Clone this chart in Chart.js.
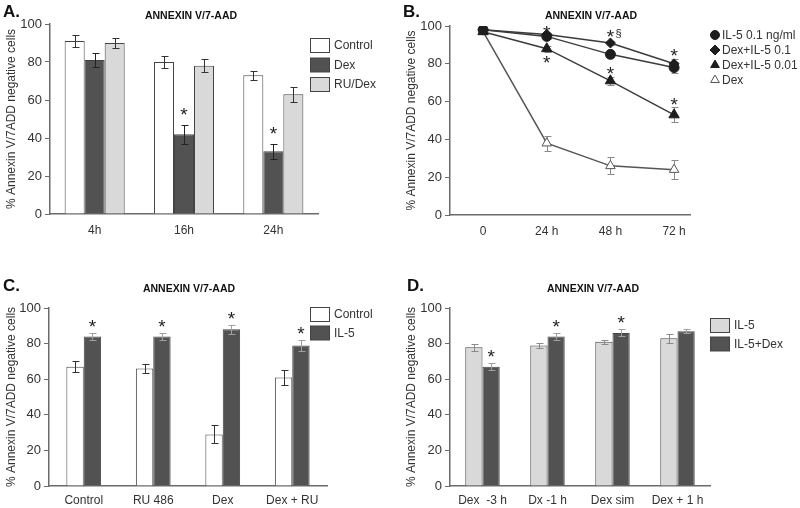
<!DOCTYPE html>
<html lang="en">
<head>
<meta charset="UTF-8">
<title>Annexin V/7-AAD</title>
<script src="https://cdn.jsdelivr.net/npm/chart.js@4"></script>
<style>
    body { margin: 0; background: #fff; }
    .figure { position: relative; width: 800px; height: 508px; }
    .figure canvas { position: absolute; }
</style>
</head>
<body>
<div class="figure">
    <canvas id="panelA" width="400" height="250" style="left:0;top:0"></canvas>
    <canvas id="panelB" width="400" height="250" style="left:400px;top:0"></canvas>
    <canvas id="panelC" width="400" height="258" style="left:0;top:250px"></canvas>
    <canvas id="panelD" width="400" height="258" style="left:400px;top:250px"></canvas>
</div>
<script>
// ---- data ----
const yTitle = '% Annexin V/7ADD negative cells';
const panelTitle = 'ANNEXIN V/7-AAD';

// A. time course, bars
const catsA = ['4h', '16h', '24h'];
const controlA = [91, 80, 73];
const dexA = [81, 42, 33];
const ruDexA = [90, 78, 63];
const controlErrA = [3, 3, 2.5];
const dexErrA = [3.5, 5, 4];
const ruDexErrA = [2.5, 3.5, 4];
const dexStarsA = ['', '*', '*'];

// B. IL-5 rescue, lines
const timesB = ['0', '24 h', '48 h', '72 h'];
const il5B = [98, 94.5, 85, 78];
const dexIl5HighB = [98, 95.5, 91, 80];
const dexIl5LowB = [97, 88, 71, 53];
const dexB = [97, 38, 26, 24];
const il5ErrB = [1, 1.5, 1.5, 3];
const dexIl5HighErrB = [1, 1, 1, 2.5];
const dexIl5LowErrB = [1, 1.5, 2, 4];
const dexErrB = [1, 4, 4.5, 5];
// asterisks in B: time index, value position, text
const starAtB = [1, 1, 2, 2, 3, 3];
const starValB = [99, 83, 97, 77, 87, 61];
const starTextB = ['*', '*', '*§', '*', '*', '*'];

// C. Control vs IL-5
const catsC = ['Control', 'RU 486', 'Dex', 'Dex + RU'];
const controlC = [67, 66, 29, 61];
const il5C = [84, 84, 88, 79];
const controlErrC = [3, 2.5, 5, 4];
const il5ErrC = [2, 2, 2.5, 3];
const il5StarsC = ['*', '*', '*', '*'];

// D. Dex timing
const catsD = ['Dex  -3 h', 'Dx -1 h', 'Dex sim', 'Dex + 1 h'];
const il5D = [78, 79, 81, 83];
const il5DexD = [67, 84, 86, 87];
const il5ErrD = [2, 1.5, 1, 2.5];
const il5DexErrD = [2, 2, 2, 1];
const il5DexStarsD = ['*', '*', '*', ''];

// ---- styles ----
const FONT = "'Liberation Sans', Arial, sans-serif";
const AXIS = '#6b6b6b';
const WHITE = '#ffffff', DARK = '#525252', LIGHT = '#d9d9d9', EDGE = '#444444';

Chart.defaults.font.family = FONT;
Chart.defaults.color = '#333';
Chart.defaults.animation = false;

function drawMarker(ctx, style, x, y, r) {
    ctx.beginPath();
    if (style === 'circle') {
        ctx.arc(x, y, r, 0, Math.PI * 2);
    } else if (style === 'rectRot') {
        ctx.moveTo(x, y - r); ctx.lineTo(x + r, y); ctx.lineTo(x, y + r); ctx.lineTo(x - r, y);
    } else {
        for (let k = 0; k < 3; k++) {
            const a = k * 2 * Math.PI / 3;
            ctx.lineTo(x + Math.sin(a) * r, y - Math.cos(a) * r);
        }
    }
    ctx.closePath();
    ctx.fill();
    ctx.stroke();
}

function drawErrors(chart) {
    const ctx = chart.ctx, ys = chart.scales.y;
    ctx.save();
    chart.data.datasets.forEach((ds, i) => {
        if (!ds.errors) return;
        chart.getDatasetMeta(i).data.forEach((el, j) => {
            const raw = ds.data[j];
            const v = typeof raw === 'object' ? raw.y : raw;
            const e = ds.errors[j];
            const x = Math.round(el.x) + 0.5;
            const top = Math.round(ys.getPixelForValue(v + e)) + 0.5;
            const bot = Math.round(ys.getPixelForValue(v - e)) + 0.5;
            ctx.strokeStyle = ds.errorColor || '#333';
            ctx.lineWidth = 1;
            ctx.beginPath();
            ctx.moveTo(x, top); ctx.lineTo(x, bot);
            ctx.moveTo(x - 3, top); ctx.lineTo(x + 4, top);
            ctx.moveTo(x - 3, bot); ctx.lineTo(x + 4, bot);
            ctx.stroke();
        });
    });
    ctx.restore();
}

function drawStar(ctx, text, x, cy) {
    ctx.font = '19px ' + FONT;
    ctx.textAlign = 'center';
    ctx.textBaseline = 'alphabetic';
    ctx.fillText(text[0], x, cy + 11);
    if (text.length > 1) {
        ctx.font = '11px ' + FONT;
        ctx.textAlign = 'left';
        ctx.fillText(text.slice(1), x + 5, cy + 5);
    }
}

const decorPlugin = {
    id: 'decor',
    beforeDatasetsDraw(chart, args, opts) {
        if (opts.errorsBehind) drawErrors(chart);
    },
    afterDatasetsDraw(chart, args, opts) {
        if (!opts.errorsBehind) drawErrors(chart);
        const ctx = chart.ctx, ys = chart.scales.y, xs = chart.scales.x;
        ctx.save();
        ctx.fillStyle = '#222';
        chart.data.datasets.forEach((ds, i) => {
            if (!ds.stars) return;
            chart.getDatasetMeta(i).data.forEach((el, j) => {
                if (!ds.stars[j]) return;
                const top = ys.getPixelForValue(ds.data[j] + ds.errors[j]);
                drawStar(ctx, ds.stars[j], el.x, top - opts.starGap);
            });
        });
        (opts.freeStars || []).forEach(s => {
            drawStar(ctx, s.t, xs.getPixelForValue(s.x), ys.getPixelForValue(s.y));
        });
        ctx.restore();
    },
    afterDraw(chart, args, opts) {
        if (!opts.letter) return;
        const ctx = chart.ctx;
        ctx.save();
        ctx.fillStyle = '#111';
        ctx.textBaseline = 'alphabetic';
        ctx.textAlign = 'left';
        ctx.font = 'bold 17px ' + FONT;
        ctx.fillText(opts.letter, opts.letterX, opts.letterY);
        ctx.textAlign = 'center';
        ctx.font = 'bold 10.5px ' + FONT;
        ctx.fillText(panelTitle, opts.titleX, opts.titleY);
        // legend
        const lg = opts.legend;
        ctx.font = '12px ' + FONT;
        ctx.textAlign = 'left';
        ctx.textBaseline = 'middle';
        chart.data.datasets.forEach((ds, i) => {
            const cy = lg.y + i * lg.step;
            if (lg.kind === 'box') {
                ctx.fillStyle = ds.backgroundColor;
                ctx.strokeStyle = ds.borderColor;
                ctx.lineWidth = 1;
                ctx.fillRect(lg.x + 0.5, cy - 7 + 0.5, 19, 14);
                ctx.strokeRect(lg.x + 0.5, cy - 7 + 0.5, 19, 14);
                ctx.fillStyle = '#333';
                ctx.fillText(ds.label, lg.x + 24, cy + 1);
            } else {
                ctx.fillStyle = ds.pointBackgroundColor;
                ctx.strokeStyle = ds.pointBorderColor;
                ctx.lineWidth = 1;
                drawMarker(ctx, ds.pointStyle, lg.x, cy, ds.pointStyle === 'circle' ? 4.5 : 5);
                ctx.fillStyle = '#333';
                ctx.fillText(ds.label, lg.x + 7, cy + 1);
            }
        });
        ctx.restore();
    }
};
Chart.register(decorPlugin);

function yAxis(width) {
    return {
        min: 0, max: 100,
        ticks: { stepSize: 20, font: { size: 13 }, color: '#333', padding: 3 },
        grid: { display: true, drawOnChartArea: false, drawTicks: true, tickLength: 5, color: AXIS },
        border: { display: true, color: AXIS, width: 1.5 },
        title: { display: true, text: yTitle, color: '#333', font: { size: 12 }, padding: { top: 4, bottom: 0 } },
        afterFit(scale) { scale.width = width; }
    };
}

function xCategory(height, pad) {
    return {
        ticks: { font: { size: 12 }, color: '#333', padding: pad, autoSkip: false, maxRotation: 0 },
        grid: { display: false, drawTicks: false },
        border: { display: true, color: AXIS, width: 1.5 },
        afterFit(scale) { scale.height = height; }
    };
}

function barSet(label, data, errors, fill, errorColor, stars) {
    return {
        label: label, data: data, errors: errors, stars: stars,
        backgroundColor: fill, borderColor: EDGE, borderWidth: 1,
        errorColor: errorColor, barPercentage: 1
    };
}

// ---- A ----
new Chart(document.getElementById('panelA'), {
    type: 'bar',
    data: {
        labels: catsA,
        datasets: [
            barSet('Control', controlA, controlErrA, WHITE, '#333'),
            barSet('Dex', dexA, dexErrA, DARK, '#222', dexStarsA),
            barSet('RU/Dex', ruDexA, ruDexErrA, LIGHT, '#333')
        ]
    },
    options: {
        responsive: false,
        datasets: { bar: { categoryPercentage: 0.672 } },
        layout: { padding: { left: 0, top: 24, right: 82, bottom: 0 } },
        scales: { x: xCategory(36, 9), y: yAxis(50) },
        plugins: {
            legend: { display: false }, tooltip: { enabled: false },
            decor: {
                letter: 'A.', letterX: 3, letterY: 17, titleX: 191, titleY: 19, starGap: 15,
                legend: { kind: 'box', x: 310, y: 45, step: 19.5 }
            }
        }
    }
});

// ---- B ----
function lineSet(label, values, errors, style, radius, fill, edge, lineColor) {
    return {
        label: label,
        data: values.map((v, i) => ({ x: i, y: v })),
        errors: errors, errorColor: '#8a8a8a',
        borderColor: lineColor, borderWidth: 1.5,
        pointStyle: style, pointRadius: radius,
        pointBackgroundColor: fill, pointBorderColor: edge, pointBorderWidth: 1,
        fill: false, tension: 0
    };
}

new Chart(document.getElementById('panelB'), {
    type: 'line',
    data: {
        datasets: [
            lineSet('IL-5 0.1 ng/ml', il5B, il5ErrB, 'circle', 5, '#1e1e1e', '#1e1e1e', '#3c3c3c'),
            lineSet('Dex+IL-5 0.1', dexIl5HighB, dexIl5HighErrB, 'rectRot', 5, '#1e1e1e', '#1e1e1e', '#3c3c3c'),
            lineSet('Dex+IL-5 0.01', dexIl5LowB, dexIl5LowErrB, 'triangle', 6, '#1e1e1e', '#1e1e1e', '#3c3c3c'),
            lineSet('Dex', dexB, dexErrB, 'triangle', 5.5, '#ffffff', '#555555', '#555555')
        ]
    },
    options: {
        responsive: false,
        layout: { padding: { left: 0, top: 26, right: 110, bottom: 0 } },
        scales: {
            x: {
                type: 'linear', min: -0.52, max: 3.25,
                afterBuildTicks(scale) { scale.ticks = timesB.map((t, i) => ({ value: i })); },
                ticks: {
                    autoSkip: false, font: { size: 12 }, color: '#333', padding: 9,
                    callback: v => timesB[v]
                },
                grid: { display: false, drawTicks: false },
                border: { display: true, color: AXIS, width: 1.5 },
                afterFit(scale) { scale.height = 35; }
            },
            y: yAxis(50)
        },
        plugins: {
            legend: { display: false }, tooltip: { enabled: false },
            decor: {
                letter: 'B.', letterX: 3, letterY: 17, titleX: 191, titleY: 19, errorsBehind: true,
                freeStars: starAtB.map((x, k) => ({ x: x, y: starValB[k], t: starTextB[k] })),
                legend: { kind: 'point', x: 315, y: 35, step: 15 }
            }
        }
    }
});

// ---- C ----
new Chart(document.getElementById('panelC'), {
    type: 'bar',
    data: {
        labels: catsC,
        datasets: [
            barSet('Control', controlC, controlErrC, WHITE, '#333'),
            barSet('IL-5', il5C, il5ErrC, DARK, '#a0a0a0', il5StarsC)
        ]
    },
    options: {
        responsive: false,
        datasets: { bar: { categoryPercentage: 0.5 } },
        layout: { padding: { left: 0, top: 58, right: 73, bottom: 0 } },
        scales: { x: xCategory(22, 7), y: yAxis(49) },
        plugins: {
            legend: { display: false }, tooltip: { enabled: false },
            decor: {
                letter: 'C.', letterX: 3, letterY: 41, titleX: 189, titleY: 42, starGap: 11,
                legend: { kind: 'box', x: 310, y: 64, step: 18.5 }
            }
        }
    }
});

// ---- D ----
new Chart(document.getElementById('panelD'), {
    type: 'bar',
    data: {
        labels: catsD,
        datasets: [
            barSet('IL-5', il5D, il5ErrD, LIGHT, '#8a8a8a'),
            barSet('IL-5+Dex', il5DexD, il5DexErrD, DARK, '#a0a0a0', il5DexStarsD)
        ]
    },
    options: {
        responsive: false,
        datasets: { bar: { categoryPercentage: 0.53 } },
        layout: { padding: { left: 0, top: 58, right: 90, bottom: 0 } },
        scales: { x: xCategory(22, 7), y: yAxis(50) },
        plugins: {
            legend: { display: false }, tooltip: { enabled: false },
            decor: {
                letter: 'D.', letterX: 7, letterY: 41, titleX: 193, titleY: 42, starGap: 11,
                legend: { kind: 'box', x: 310, y: 75, step: 18.5 }
            }
        }
    }
});
</script>
</body>
</html>
